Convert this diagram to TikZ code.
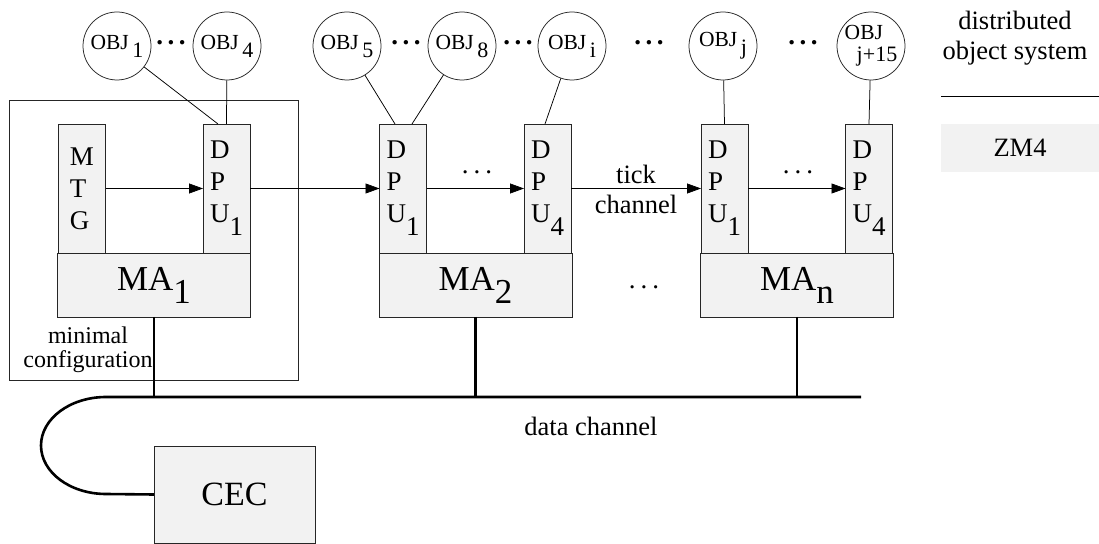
\documentclass[tikz,border=0pt]{standalone}
\usepackage{fontspec}
\setmainfont{Liberation Serif}
\usetikzlibrary{arrows.meta}
\tikzset{>={Triangle[length=14bp,width=10bp]}}
\newcommand{\lowsub}[2]{\raisebox{-#1}{#2}}
\newcommand{\dotrow}{.\kern5bp.\kern5bp.}
\newcommand{\bigdotrow}{\bfseries.\kern4.5bp.\kern4.5bp.}

\begin{document}
\begin{tikzpicture}[x=1bp, y=-1bp, line width=0.75bp,
  unit/.style={draw=black!85, fill=black!5, inner sep=0pt, outer sep=0pt},
  dpu/.style={unit, minimum width=47bp, minimum height=129bp, align=left, font=\fontsize{27bp}{32bp}\selectfont},
  board/.style={unit, minimum width=193bp, minimum height=64bp, font=\fontsize{35bp}{35bp}\selectfont},
  obj/.style={draw=black!85, circle, minimum size=68bp, inner sep=0pt, font=\fontsize{21.5bp}{22bp}\selectfont},
  txt/.style={inner sep=0pt, align=center, font=\fontsize{26.5bp}{30bp}\selectfont},
  dots/.style={inner sep=0pt, font=\fontsize{27bp}{27bp}\selectfont},
  bus/.style={line width=2.6bp}]
\useasboundingbox (0,0) rectangle (1099,544);

\node[draw=black!85, minimum width=289bp, minimum height=280bp, inner sep=0pt] (minconf) at (153.5,240.5) {};
\node[txt, font=\fontsize{24bp}{24bp}\selectfont] (minlabel) at (88,350) {minimal\\configuration};

\node[board] (maA) at (154,285) {MA\lowsub{13bp}{1}};
\node[board] (maB) at (475.5,285) {MA\lowsub{13bp}{2}};
\node[board] (maN) at (797,285) {MA\lowsub{13bp}{n}};

\node[dpu] (mtg) at (82,188.5) {M\\T\\G};
\node[dpu] (dpuAa) at (226.5,188.5) {D\\P\\U\lowsub{13bp}{1}};
\node[dpu] (dpuBa) at (403,188.5) {D\\P\\U\lowsub{13bp}{1}};
\node[dpu] (dpuBd) at (547.5,188.5) {D\\P\\U\lowsub{13bp}{4}};
\node[dpu] (dpuNa) at (724.5,188.5) {D\\P\\U\lowsub{13bp}{1}};
\node[dpu] (dpuNd) at (869,188.5) {D\\P\\U\lowsub{13bp}{4}};

\node[obj] (objA) at (117,46) {OBJ\,\lowsub{8bp}{\fontsize{22bp}{22bp}\selectfont 1}};
\node[obj] (objB) at (227,46) {OBJ\,\lowsub{8bp}{\fontsize{22bp}{22bp}\selectfont 4}};
\node[obj] (objC) at (347,46) {OBJ\,\lowsub{8bp}{\fontsize{22bp}{22bp}\selectfont 5}};
\node[obj] (objD) at (462,46) {OBJ\,\lowsub{8bp}{\fontsize{22bp}{22bp}\selectfont 8}};
\node[obj] (objI) at (572,46) {OBJ\,\lowsub{8bp}{\fontsize{22bp}{22bp}\selectfont i}};
\node[obj] (objJ) at (723,46) {OBJ\,\lowsub{8bp}{\fontsize{22bp}{22bp}\selectfont j}};
\node[obj, align=left] (objK) at (871,46) {OBJ\\\hspace*{12bp}{\fontsize{22bp}{18bp}\selectfont j+15}};

\node[dots] (dtA) at (171,43) {\bigdotrow};
\node[dots] (dtB) at (406,43) {\bigdotrow};
\node[dots] (dtC) at (518,43) {\bigdotrow};
\node[dots] (dtD) at (649,43) {\bigdotrow};
\node[dots] (dtE) at (803,43) {\bigdotrow};
\node[dots] (dtF) at (477,172) {\dotrow};
\node[dots] (dtG) at (798,172) {\dotrow};
\node[dots] (dtH) at (644,287) {\dotrow};

\node[txt] (tick) at (636,189) {tick\\channel};
\node[txt] (data) at (591,426) {data channel};
\node[txt] (dos) at (1015,38) {distributed\\object system};
\node[txt, fill=black!5, minimum width=158bp, minimum height=48bp] (zm4) at (1020,148) {ZM4};
\node[unit, minimum width=161bp, minimum height=97bp, font=\fontsize{34bp}{34bp}\selectfont] (cec) at (234.5,494.5) {CEC};

\coordinate (legL) at (941,96);
\coordinate (legR) at (1099,96);
\coordinate (busL) at (106,397);
\coordinate (busR) at (861,397);

\draw (legL) -- (legR);
\draw (objA) -- ([xshift=-8.5bp]dpuAa.north);
\draw (objB) -- (dpuAa.north);
\draw (objC) -- ([xshift=-8bp]dpuBa.north);
\draw (objD) -- ([xshift=9bp]dpuBa.north);
\draw (objI) -- ([xshift=-2.5bp]dpuBd.north);
\draw (objJ) -- (dpuNa.north);
\draw (objK) -- (dpuNd.north);

\draw[->] (mtg) -- (dpuAa);
\draw[->] (dpuAa) -- (dpuBa);
\draw[->] (dpuBa) -- (dpuBd);
\draw[->] (dpuBd) -- (dpuNa);
\draw[->] (dpuNa) -- (dpuNd);

\draw[bus] (maA.south) -- (maA.south |- busL);
\draw[bus] (maB.south) -- (maB.south |- busL);
\draw[bus] (maN.south) -- (maN.south |- busL);
\draw[bus] (busR) -- (busL) arc[start angle=270, end angle=90, x radius=65, y radius=48.5] -- (cec.west);
\end{tikzpicture}
\end{document}
